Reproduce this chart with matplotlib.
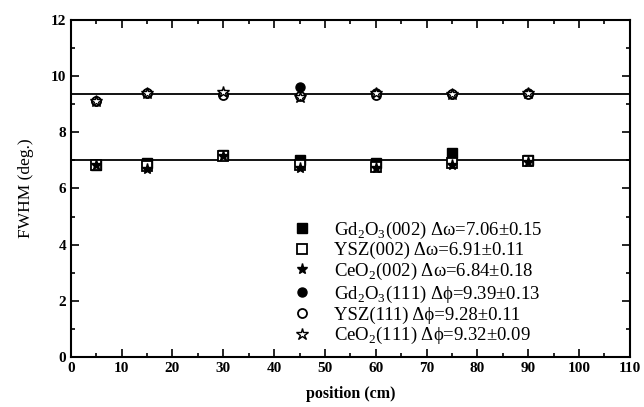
import matplotlib
matplotlib.use("Agg")
import matplotlib.pyplot as plt
from matplotlib.ticker import MultipleLocator

plt.rcParams['font.family'] = ['Liberation Serif', 'DejaVu Serif']
plt.rcParams['mathtext.fontset'] = 'custom'
plt.rcParams['mathtext.rm'] = 'Liberation Serif'

position = [5, 15, 30, 45, 60, 75, 90]

gd_002 = [6.85, 6.90, 7.20, 7.00, 6.90, 7.25, 7.02]
ysz_002 = [6.85, 6.80, 7.15, 6.83, 6.78, 6.90, 6.97]
ceo_002 = [6.85, 6.68, 7.15, 6.73, 6.72, 6.82, 6.95]
gd_111 = [9.10, 9.40, 9.35, 9.60, 9.40, 9.38, 9.40]
ysz_111 = [9.10, 9.40, 9.32, 9.28, 9.32, 9.38, 9.35]
ceo_111 = [9.12, 9.39, 9.43, 9.25, 9.40, 9.38, 9.40]

fit_levels = [9.38, 7.0]

labels = [
    r'Gd$_\mathregular{2}$O$_\mathregular{3}$(002) Δω=7.06±0.15',
    'YSZ(002) Δω=6.91±0.11',
    r'CeO$_\mathregular{2}$(002) Δω=6.84±0.18',
    r'Gd$_\mathregular{2}$O$_\mathregular{3}$(111) Δϕ=9.39±0.13',
    'YSZ(111) Δϕ=9.28±0.11',
    r'CeO$_\mathregular{2}$(111) Δϕ=9.32±0.09',
]

fig = plt.figure(figsize=(6.44, 4.07), dpi=100)
ax = fig.add_axes([0.110, 0.123, 0.868, 0.828])

for lvl in fit_levels:
    ax.axhline(lvl, color='black', lw=1.3, zorder=1)

ax.plot(position, gd_002, 's', color='black', ms=6.5, ls='none', label=labels[0])
ax.plot(position, ysz_002, 's', mfc='white', mec='black', mew=1.3, ms=6.5, ls='none', label=labels[1])
ax.plot(position, ceo_002, '*', color='black', ms=8, ls='none', label=labels[2])
ax.plot(position, gd_111, 'o', color='black', ms=6.5, ls='none', label=labels[3])
ax.plot(position, ysz_111, 'o', mfc='white', mec='black', mew=1.3, ms=6.5, ls='none', label=labels[4])
ax.plot(position, ceo_111, '*', mfc='white', mec='black', mew=1.0, ms=9, ls='none', label=labels[5])

ax.set_xlim(0, 110)
ax.set_ylim(0, 12)
ax.xaxis.set_major_locator(MultipleLocator(10))
ax.xaxis.set_minor_locator(MultipleLocator(5))
ax.yaxis.set_major_locator(MultipleLocator(2))
ax.yaxis.set_minor_locator(MultipleLocator(1))
ax.tick_params(which='both', direction='in', top=True, right=True, width=1.2)
ax.tick_params(which='major', length=6, labelsize=11)
ax.tick_params(which='minor', length=3)
for lab in ax.get_xticklabels() + ax.get_yticklabels():
    lab.set_fontweight('bold')
for sp in ax.spines.values():
    sp.set_linewidth(1.5)

ax.set_xlabel('position (cm)', fontsize=11.5, fontweight='bold', labelpad=8)
ax.set_ylabel('FWHM (deg.)', fontsize=12.5, labelpad=12)

ax.legend(loc='upper left', bbox_to_anchor=(0.38, 0.43), frameon=False,
          fontsize=13.5, handletextpad=1.1, labelspacing=0.08, borderaxespad=0,
          handlelength=1.2)

fig.savefig('out.png', dpi=100)
